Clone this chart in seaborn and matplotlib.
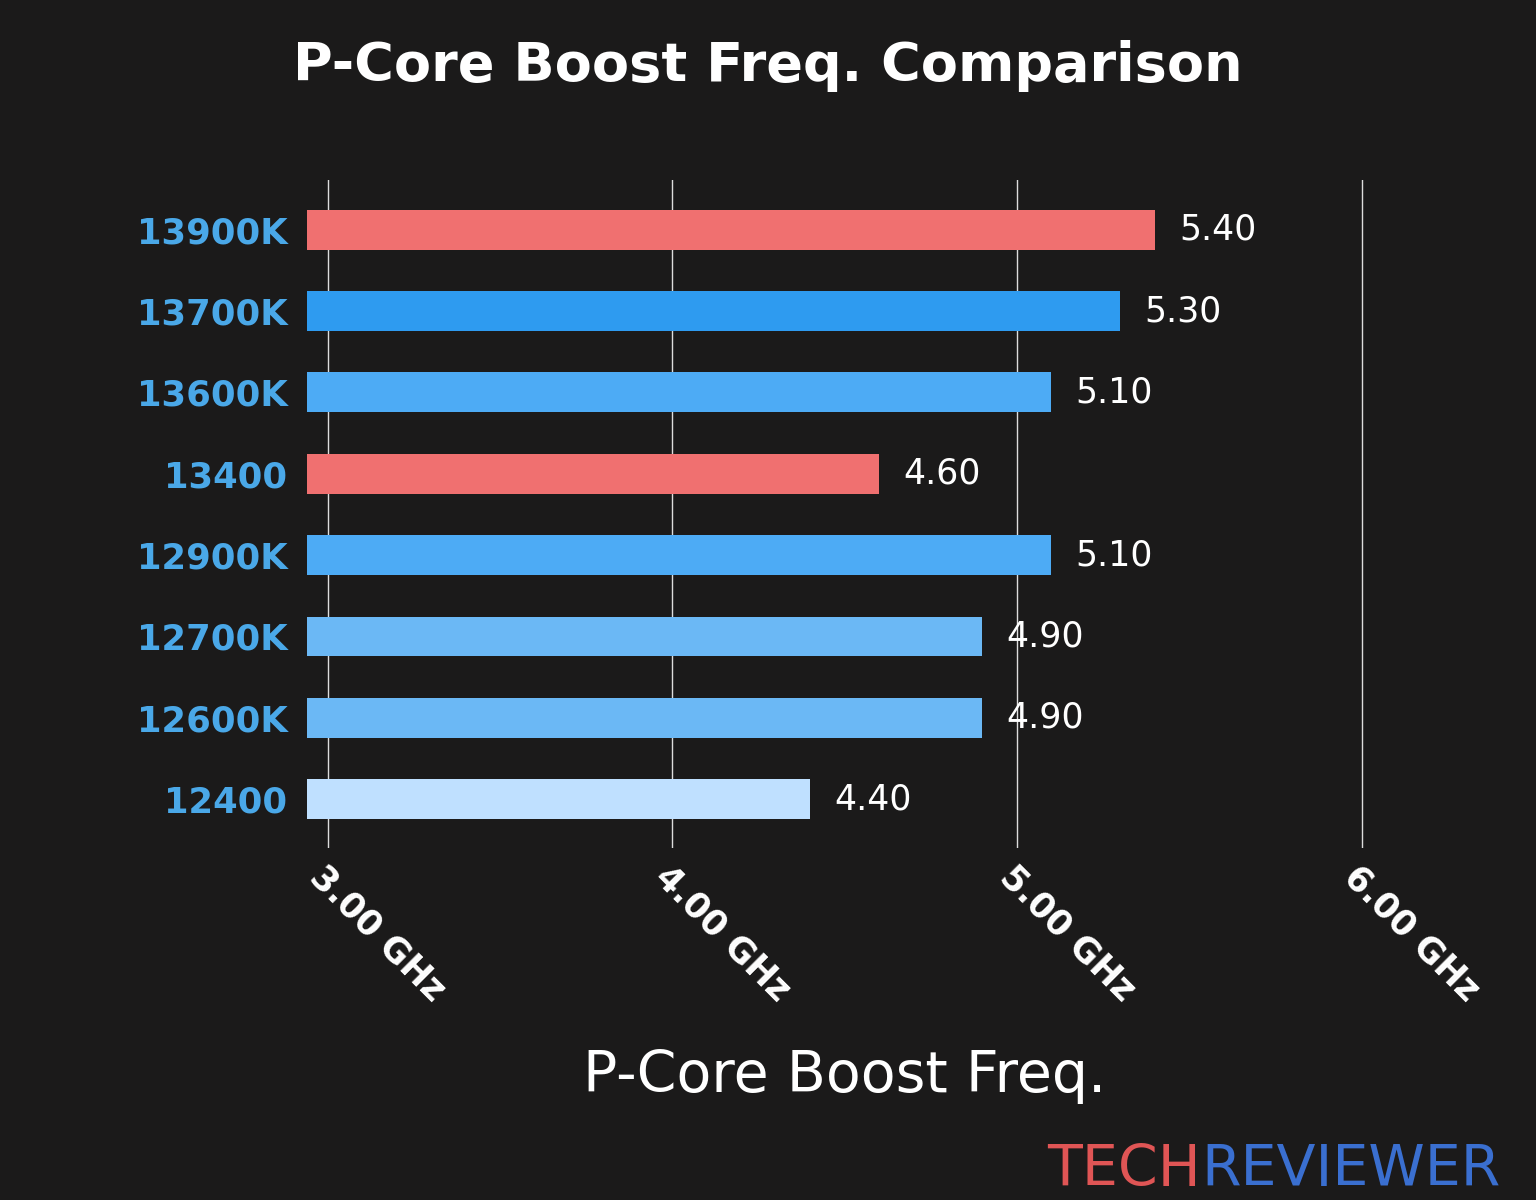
import matplotlib
matplotlib.use("Agg")
import matplotlib.pyplot as plt
import seaborn as sns
import pandas as pd

cpus = ["13900K", "13700K", "13600K", "13400", "12900K", "12700K", "12600K", "12400"]
freqs = [5.40, 5.30, 5.10, 4.60, 5.10, 4.90, 4.90, 4.40]
colors = ["#F07070", "#2E9BF0", "#4DABF5", "#F07070", "#4DABF5", "#6BB8F5", "#6BB8F5", "#BFE0FF"]
ticks = [3, 4, 5, 6]
tick_labels = ["3.00 GHz", "4.00 GHz", "5.00 GHz", "6.00 GHz"]

df = pd.DataFrame({"cpu": cpus, "freq": freqs})
bg = "#1b1a1a"
fig = plt.figure(figsize=(15.36, 12), dpi=100, facecolor=bg)
ax = fig.add_axes([0.1999, 0.2933, 0.7, 0.5567])
ax.set_facecolor(bg)
sns.barplot(data=df, x="freq", y="cpu", hue="cpu", palette=colors, orient="h",
            width=0.49, legend=False, ax=ax, saturation=1, zorder=3)
ax.set_xlim(2.94, 6.06)
ax.set_ylim(7.6, -0.61)
ax.set_xticks(ticks)
ax.set_xticklabels(tick_labels, rotation=-45, ha="left", va="top",
                   rotation_mode="anchor", fontsize=25, fontweight="bold", color="white")
ax.grid(axis="x", color="#dddddd", linewidth=1, zorder=0)
ax.set_axisbelow(True)
for s in ax.spines.values():
    s.set_visible(False)
ax.tick_params(axis="y", length=0, pad=14)
ax.tick_params(axis="x", length=0, pad=8)
for lab in ax.get_yticklabels():
    lab.set_fontsize(25.5); lab.set_fontweight("bold"); lab.set_color("#4AA8E8")
for i, v in enumerate(freqs):
    ax.text(v + 0.07, i, f"{v:.2f}", va="center", ha="left", fontsize=25, color="white")
ax.set_ylabel("")
ax.set_xlabel("P-Core Boost Freq.", fontsize=41, color="white", labelpad=30)
fig.text(0.5, 0.945, "P-Core Boost Freq. Comparison", ha="center", va="center",
         fontsize=39, fontweight="bold", color="white")
fig.text(0.782, 0.012, "TECH", ha="right", va="baseline", fontsize=41, color="#E05555")
fig.text(0.782, 0.012, "REVIEWER", ha="left", va="baseline", fontsize=41, color="#3A6FD0")
fig.savefig("out.png", dpi=100, facecolor=bg)
